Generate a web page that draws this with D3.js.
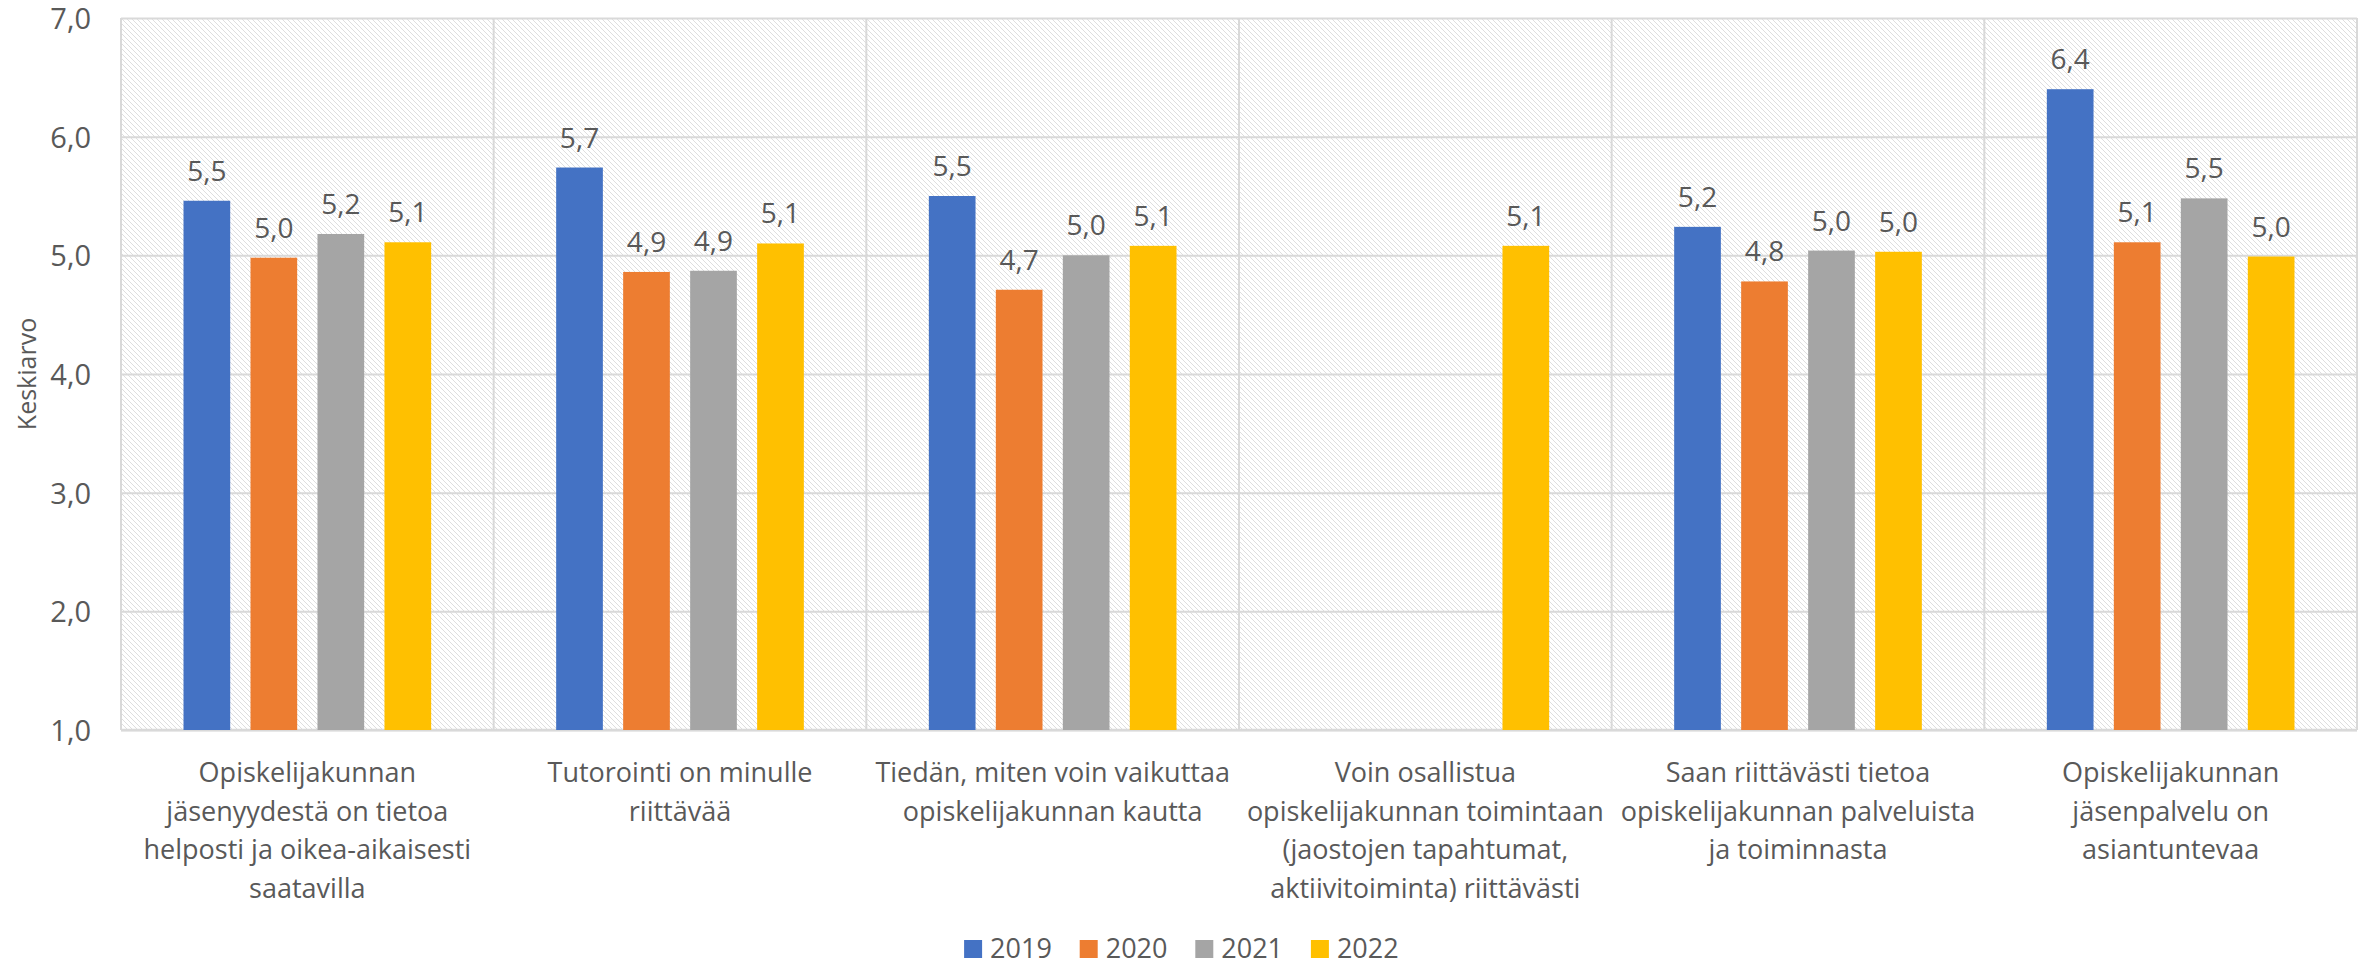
<!DOCTYPE html>
<html>
<head>
<meta charset="utf-8">
<script src="https://cdn.jsdelivr.net/npm/d3@7"></script>
<style>
  html, body { margin: 0; padding: 0; background: #fff; }
  svg { display: block; }
  text { font-family: "Open Sans", "Noto Sans", sans-serif; fill: #595959; }
</style>
</head>
<body>
<svg id="chart" width="2364" height="966"></svg>
<script>
// ---- data ----
const categories = [
  ["Opiskelijakunnan", "jäsenyydestä on tietoa", "helposti ja oikea-aikaisesti", "saatavilla"],
  ["Tutorointi on minulle", "riittävää"],
  ["Tiedän, miten voin vaikuttaa", "opiskelijakunnan kautta"],
  ["Voin osallistua", "opiskelijakunnan toimintaan", "(jaostojen tapahtumat,", "aktiivitoiminta) riittävästi"],
  ["Saan riittävästi tietoa", "opiskelijakunnan palveluista", "ja toiminnasta"],
  ["Opiskelijakunnan", "jäsenpalvelu on", "asiantuntevaa"]
];
const seriesNames = ["2019", "2020", "2021", "2022"];
const values2019 = [5.46, 5.74, 5.50, null, 5.24, 6.40];
const values2020 = [4.98, 4.86, 4.71, null, 4.78, 5.11];
const values2021 = [5.18, 4.87, 5.00, null, 5.04, 5.48];
const values2022 = [5.11, 5.10, 5.08, 5.08, 5.03, 4.99];
const seriesColors = ["#4472C4", "#ED7D31", "#A5A5A5", "#FFC000"];
const yTicks = [1, 2, 3, 4, 5, 6, 7];
const yTitle = "Keskiarvo";

// ---- layout ----
const W = 2364, H = 966;
const margin = { left: 121, top: 18, right: 7, bottom: 236 };
const pw = W - margin.left - margin.right;
const ph = H - margin.top - margin.bottom;

const svg = d3.select("#chart");
const defs = svg.append("defs");
const pat = defs.append("pattern")
  .attr("id", "hatch").attr("patternUnits", "userSpaceOnUse")
  .attr("width", 5).attr("height", 5);
pat.append("rect").attr("width", 5).attr("height", 5).attr("fill", "#fff");
pat.append("path").attr("d", "M-1,-1 L6,6 M-1,4 L1,6 M4,-1 L6,1")
  .attr("stroke", "#dedede").attr("stroke-width", 1);

const g = svg.append("g").attr("transform", `translate(${margin.left},${margin.top})`);

const seriesValues = [values2019, values2020, values2021, values2022];
const data = categories.map((c, i) => ({
  idx: i,
  vals: seriesNames.map((s, j) => ({ key: s, j, v: seriesValues[j][i] }))
}));

const x0 = d3.scaleBand().domain(d3.range(categories.length)).range([0, pw]).padding(0);
const x1 = d3.scaleBand().domain(seriesNames).range([0, x0.bandwidth()])
  .paddingInner(0.303).paddingOuter(0.933);
const y = d3.scaleLinear().domain([1, 7]).range([ph, 0]);

const loc = d3.formatLocale({ decimal: ",", thousands: " ", grouping: [3], currency: ["", "€"] });
const fmt = loc.format(".1f");

// background hatch
g.append("rect").attr("x", 0).attr("y", 0).attr("width", pw).attr("height", ph)
  .attr("fill", "url(#hatch)");

// horizontal gridlines + y axis labels
const yAxis = g.append("g").call(
  d3.axisLeft(y).tickValues(yTicks).tickSize(-pw).tickPadding(30).tickFormat(fmt)
);
yAxis.select(".domain").remove();
yAxis.selectAll(".tick line").attr("stroke", "#d9d9d9").attr("stroke-width", 2);
yAxis.selectAll(".tick text").attr("font-size", 29).attr("fill", "#595959")
  .attr("dy", "0.36em")
  .attr("font-family", "'Open Sans', sans-serif");

// vertical category separators
g.append("g").selectAll("line")
  .data(d3.range(categories.length + 1))
  .join("line")
  .attr("x1", d => d === categories.length ? pw : x0(d))
  .attr("x2", d => d === categories.length ? pw : x0(d))
  .attr("y1", 0).attr("y2", ph)
  .attr("stroke", "#d9d9d9").attr("stroke-width", 2);

// bottom axis line
g.append("line").attr("x1", 0).attr("x2", pw).attr("y1", ph).attr("y2", ph)
  .attr("stroke", "#d9d9d9").attr("stroke-width", 2.5);

// bars
const groups = g.append("g").selectAll("g.cat")
  .data(data).join("g").attr("class", "cat")
  .attr("transform", d => `translate(${x0(d.idx)},0)`);

groups.selectAll("rect")
  .data(d => d.vals.filter(v => v.v != null))
  .join("rect")
  .attr("x", d => x1(d.key))
  .attr("width", x1.bandwidth())
  .attr("y", d => y(d.v))
  .attr("height", d => y(1) - y(d.v))
  .attr("fill", d => seriesColors[d.j]);

groups.selectAll("text.lbl")
  .data(d => d.vals.filter(v => v.v != null))
  .join("text").attr("class", "lbl")
  .attr("x", d => x1(d.key) + x1.bandwidth() / 2)
  .attr("y", d => y(d.v) - 20)
  .attr("text-anchor", "middle")
  .attr("font-size", 28)
  .attr("fill", "#404040")
  .text(d => fmt(d.v));

// x axis category labels
const xAxis = g.append("g").attr("transform", `translate(0,${ph})`)
  .call(d3.axisBottom(x0).tickSize(0).tickFormat(""));
xAxis.select(".domain").remove();
xAxis.selectAll(".tick").each(function(d) {
  const t = d3.select(this).append("text")
    .attr("text-anchor", "middle")
    .attr("font-size", 27)
    .attr("fill", "#595959")
    .attr("y", 52);
  categories[d].forEach((line, k) => {
    t.append("tspan").attr("x", 0).attr("dy", k === 0 ? 0 : 38.7).text(line);
  });
});

// y title
svg.append("text")
  .attr("transform", `translate(36,${margin.top + ph / 2}) rotate(-90)`)
  .attr("text-anchor", "middle")
  .attr("font-size", 25)
  .attr("fill", "#595959")
  .text(yTitle);

// legend
const itemW = 115.6;
const legend = svg.append("g")
  .attr("transform", `translate(${W / 2 - (itemW * 3 + 18 + 8 + 63) / 2},0)`);
const li = legend.selectAll("g").data(seriesNames).join("g")
  .attr("transform", (d, i) => `translate(${i * itemW},0)`);
li.append("rect").attr("x", 0).attr("y", 940).attr("width", 18).attr("height", 18)
  .attr("fill", (d, i) => seriesColors[i]);
li.append("text").attr("x", 26).attr("y", 958).attr("font-size", 27)
  .attr("fill", "#595959").text(d => d);
</script>
</body>
</html>
